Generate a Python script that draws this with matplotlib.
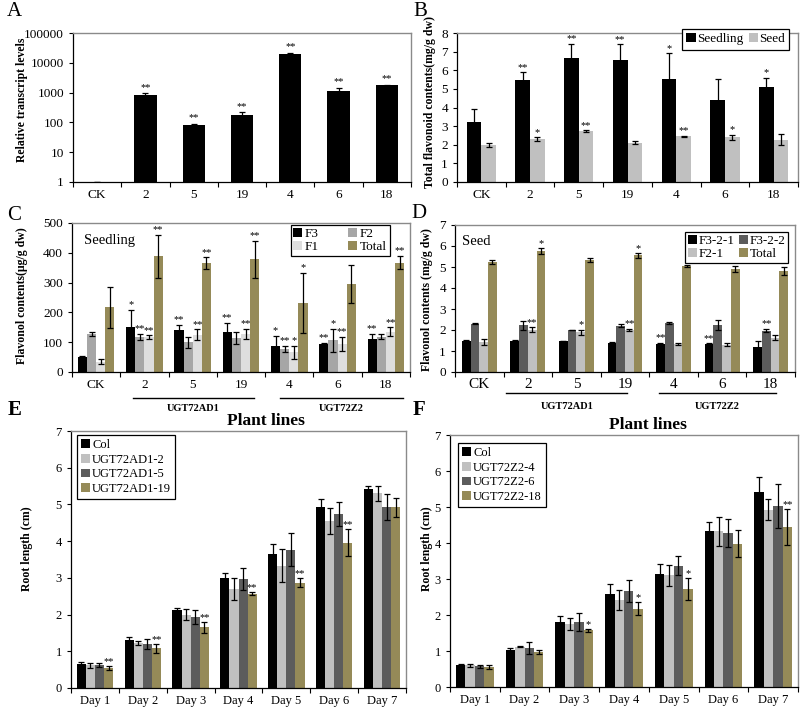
import numpy as np
import matplotlib
matplotlib.use('Agg')
import matplotlib.pyplot as plt

plt.rcParams['font.family'] = ['Liberation Serif', 'DejaVu Serif']
plt.rcParams['font.size'] = 9
plt.rcParams['mathtext.fontset'] = 'stix'

# ---------------- data ----------------
lines = ['CK', '2', '5', '19', '4', '6', '18']

# A: relative transcript levels
a_vals = [1, 800, 80, 175, 20000, 1150, 1750]
a_err = [0, 150, 8, 45, 1500, 300, 100]
a_sig = ['', '**', '**', '**', '**', '**', '**']

# B: total flavonoid contents
b_seedling = [3.2, 5.45, 6.65, 6.55, 5.55, 4.4, 5.1]
b_seedling_err = [0.7, 0.45, 0.78, 0.85, 1.35, 1.15, 0.5]
b_seedling_sig = ['', '**', '**', '**', '*', '', '*']
b_seed = [1.98, 2.3, 2.72, 2.12, 2.46, 2.4, 2.27]
b_seed_err = [0.12, 0.1, 0.05, 0.08, 0.03, 0.13, 0.3]
b_seed_sig = ['', '*', '**', '', '**', '*', '']

# C: seedling flavonols
c_f3 = [52, 150, 140, 135, 86, 93, 112]
c_f3_err = [2, 58, 18, 30, 35, 5, 15]
c_f3_sig = ['', '*', '**', '**', '*', '**', '**']
c_f2 = [128, 118, 100, 115, 78, 106, 118]
c_f2_err = [6, 10, 18, 20, 10, 38, 8]
c_f2_sig = ['', '**', '', '', '**', '*', '']
c_f1 = [35, 117, 125, 127, 66, 95, 135]
c_f1_err = [8, 6, 18, 17, 22, 24, 15]
c_f1_sig = ['', '**', '**', '**', '*', '**', '**']
c_tot = [217, 388, 365, 378, 232, 295, 367]
c_tot_err = [68, 72, 20, 62, 100, 65, 22]
c_tot_sig = ['', '**', '**', '**', '*', '', '**']

# D: seed flavonols
d_f321 = [1.5, 1.5, 1.48, 1.38, 1.32, 1.33, 1.17]
d_f321_err = [0.04, 0.04, 0.02, 0.07, 0.07, 0.04, 0.3]
d_f321_sig = ['', '', '', '', '**', '**', '']
d_f322 = [2.3, 2.22, 2.0, 2.2, 2.35, 2.25, 1.97]
d_f322_err = [0.03, 0.2, 0.02, 0.08, 0.05, 0.25, 0.08]
d_f322_sig = ['', '', '', '', '', '', '**']
d_f21 = [1.43, 2.02, 1.9, 2.0, 1.33, 1.3, 1.63]
d_f21_err = [0.15, 0.1, 0.12, 0.05, 0.05, 0.07, 0.12]
d_f21_sig = ['', '**', '*', '**', '', '', '']
d_tot = [5.22, 5.75, 5.35, 5.55, 5.05, 4.9, 4.8]
d_tot_err = [0.1, 0.15, 0.1, 0.1, 0.05, 0.15, 0.2]
d_tot_sig = ['', '*', '', '*', '*', '*', '*']

days = ['Day 1', 'Day 2', 'Day 3', 'Day 4', 'Day 5', 'Day 6', 'Day 7']

# E: root length UGT72AD1
e_names = ['Col', 'UGT72AD1-2', 'UGT72AD1-5', 'UGT72AD1-19']
e_col = [0.66, 1.3, 2.12, 3.0, 3.65, 4.92, 5.43]
e_col_err = [0.04, 0.08, 0.07, 0.12, 0.28, 0.22, 0.07]
e_l2 = [0.62, 1.22, 2.0, 2.7, 3.33, 4.55, 5.3]
e_l2_err = [0.07, 0.06, 0.15, 0.3, 0.45, 0.35, 0.2]
e_l5 = [0.62, 1.2, 1.93, 2.98, 3.77, 4.73, 4.93]
e_l5_err = [0.05, 0.14, 0.2, 0.3, 0.46, 0.33, 0.35]
e_l19 = [0.55, 1.08, 1.65, 2.57, 2.87, 3.96, 4.92]
e_l19_err = [0.05, 0.12, 0.14, 0.05, 0.12, 0.37, 0.25]
e_l19_sig = ['**', '**', '**', '**', '**', '**', '']

# F: root length UGT72Z2
f_names = ['Col', 'UGT72Z2-4', 'UGT72Z2-6', 'UGT72Z2-18']
f_col = [0.6, 1.02, 1.8, 2.58, 3.15, 4.33, 5.43]
f_col_err = [0.04, 0.05, 0.16, 0.27, 0.28, 0.25, 0.4]
f_l4 = [0.6, 1.12, 1.75, 2.42, 3.1, 4.32, 4.93]
f_l4_err = [0.05, 0.02, 0.17, 0.27, 0.3, 0.4, 0.28]
f_l6 = [0.57, 1.08, 1.8, 2.67, 3.37, 4.28, 5.03]
f_l6_err = [0.04, 0.17, 0.25, 0.3, 0.27, 0.4, 0.6]
f_l18 = [0.55, 0.98, 1.57, 2.18, 2.73, 3.98, 4.45]
f_l18_err = [0.06, 0.06, 0.04, 0.17, 0.3, 0.37, 0.5]
f_l18_sig = ['', '', '*', '*', '*', '', '**']

BLACK = '#000000'
LGREY = '#c0c0c0'
MGREY = '#a6a6a6'
VLGREY = '#dedede'
DGREY = '#5c5c5c'
OLIVE = '#958a58'

W, H = 800, 709
fig = plt.figure(figsize=(8, 7.09), dpi=100)


def add_ax(x0, y0, x1, y1):
    return fig.add_axes([x0 / W, 1 - y1 / H, (x1 - x0) / W, (y1 - y0) / H])


def style(ax, labels, ylim, yticks):
    n = len(labels)
    ax.set_xlim(-0.5, n - 0.5)
    ax.set_xticks(np.arange(n + 1) - 0.5)
    ax.set_xticklabels([])
    ax.set_xticks(np.arange(n), labels=labels, minor=True)
    ax.tick_params(axis='x', which='minor', length=0, labelsize=9.5, pad=5)
    ax.tick_params(axis='x', which='major', length=3.5, direction='out', width=0.8)
    ax.set_ylim(*ylim)
    ax.set_yticks(yticks)
    ax.tick_params(axis='y', length=3, direction='out', width=0.8, labelsize=9.5)
    for s in ['top', 'right']:
        ax.spines[s].set_color('#8a8a8a')
        ax.spines[s].set_linewidth(1.0)
    for s in ['left', 'bottom']:
        ax.spines[s].set_linewidth(0.9)


def bars(ax, x, vals, errs, width, color, sigs=None, pad=0.0, log=False, label=None):
    x = np.asarray(x, dtype=float)
    ekw = dict(elinewidth=0.9, capthick=0.9, ecolor='black')
    if log:
        v = np.asarray(vals, dtype=float)
        ax.bar(x, v - 1, width, bottom=1, color=color, yerr=errs, capsize=2.5,
               error_kw=ekw, label=label)
    else:
        ax.bar(x, vals, width, color=color, yerr=errs, capsize=2.3,
               error_kw=ekw, label=label)
    if sigs:
        for xi, v, e, s in zip(x, vals, errs, sigs):
            if s:
                top = (v + e) * pad if log else v + e + pad
                ax.text(xi, top, s, ha='center', va='bottom', fontsize=7.5)


def legend(ax, loc, anchor, ncol, order=None, **kw):
    h, l = ax.get_legend_handles_labels()
    if order is not None:
        h = [h[i] for i in order]
        l = [l[i] for i in order]
    kw.setdefault('handletextpad', 0.2)
    leg = ax.legend(h, l, loc=loc, bbox_to_anchor=anchor, ncol=ncol, frameon=True,
                    fancybox=False, edgecolor='black', framealpha=1,
                    handlelength=0.7, handleheight=0.7,
                    borderaxespad=0, **kw)
    leg.get_frame().set_linewidth(0.9)
    return leg


x = np.arange(len(lines))

# ---------------- A ----------------
axA = add_ax(73, 33, 411, 182)
axA.set_yscale('log')
bars(axA, x, a_vals, a_err, 0.46, BLACK, a_sig, pad=1.12, log=True)
style(axA, lines, (1, 100000), [1, 10, 100, 1000, 10000, 100000])
axA.set_yticklabels(['1', '10', '100', '1000', '10000', '100000'])
axA.yaxis.set_minor_locator(matplotlib.ticker.NullLocator())
axA.set_xticks(np.arange(len(lines)), labels=lines, minor=True)
axA.tick_params(axis='x', which='minor', length=0)

# ---------------- B ----------------
axB = add_ax(457, 33, 798, 182)
bars(axB, x - 0.15, b_seedling, b_seedling_err, 0.3, BLACK, b_seedling_sig, pad=0.02, label='Seedling')
bars(axB, x + 0.15, b_seed, b_seed_err, 0.3, LGREY, b_seed_sig, pad=0.02, label='Seed')
style(axB, lines, (0, 8), range(0, 9))
legend(axB, 'upper right', (0.975, 1.03), 2, fontsize=9.5, columnspacing=0.4,
       borderpad=0.35, handletextpad=0.1)

# ---------------- C ----------------
axC = add_ax(72, 223, 410, 372)
wc = 0.19
bars(axC, x - 1.5 * wc, c_f3, c_f3_err, wc, BLACK, c_f3_sig, pad=2, label='F3')
bars(axC, x - 0.5 * wc, c_f2, c_f2_err, wc, MGREY, c_f2_sig, pad=2, label='F2')
bars(axC, x + 0.5 * wc, c_f1, c_f1_err, wc, VLGREY, c_f1_sig, pad=2, label='F1')
bars(axC, x + 1.5 * wc, c_tot, c_tot_err, wc, OLIVE, c_tot_sig, pad=2, label='Total')
style(axC, lines, (0, 500), range(0, 501, 100))
legend(axC, 'upper right', (0.94, 0.985), 2, order=[0, 2, 1, 3], fontsize=9.5,
       columnspacing=2.2, labelspacing=0.05, borderpad=0.2)
axC.text(0.035, 0.88, 'Seedling', transform=axC.transAxes, fontsize=10.5, va='center')

# ---------------- D ----------------
axD = add_ax(455, 225, 795, 372)
wd = 0.18
bars(axD, x - 1.5 * wd, d_f321, d_f321_err, wd, BLACK, d_f321_sig, pad=0.02, label='F3-2-1')
bars(axD, x - 0.5 * wd, d_f322, d_f322_err, wd, DGREY, d_f322_sig, pad=0.02, label='F3-2-2')
bars(axD, x + 0.5 * wd, d_f21, d_f21_err, wd, LGREY, d_f21_sig, pad=0.02, label='F2-1')
bars(axD, x + 1.5 * wd, d_tot, d_tot_err, wd, OLIVE, d_tot_sig, pad=0.02, label='Total')
style(axD, lines, (0, 7), range(0, 8))
axD.tick_params(axis='x', which='minor', labelsize=11, pad=4)
legend(axD, 'upper right', (0.98, 0.95), 2, order=[0, 2, 1, 3], fontsize=9.5,
       columnspacing=0.35, labelspacing=0.05, borderpad=0.2, handletextpad=0.1)
axD.text(0.02, 0.89, 'Seed', transform=axD.transAxes, fontsize=10.5, va='center')

# group underlines for C and D
for ax, yl, yt, spans in [(axC, -0.175, -0.245, [(0.77, 3.27), (3.8, 6.35)]),
                          (axD, -0.145, -0.235, [(0.55, 3.05), (3.7, 6.1)])]:
    tr = ax.get_xaxis_transform()
    for (x0, x1), name in zip(spans, ['UGT72AD1', 'UGT72Z2']):
        ax.plot([x0, x1], [yl, yl], color='black', lw=1.0, transform=tr, clip_on=False)
        ax.text((x0 + x1) / 2, yt, name, transform=tr, ha='center', va='center',
                fontsize=7.5, fontweight='bold')

# ---------------- E ----------------
dx = np.arange(len(days))
axE = add_ax(71, 431, 406, 688)
we = 0.19
bars(axE, dx - 1.5 * we, e_col, e_col_err, we, BLACK, label=e_names[0])
bars(axE, dx - 0.5 * we, e_l2, e_l2_err, we, LGREY, label=e_names[1])
bars(axE, dx + 0.5 * we, e_l5, e_l5_err, we, DGREY, label=e_names[2])
bars(axE, dx + 1.5 * we, e_l19, e_l19_err, we, OLIVE, e_l19_sig, pad=0.0, label=e_names[3])
style(axE, days, (0, 7), range(0, 8))
axE.tick_params(axis='x', which='minor', labelsize=9)
axE.tick_params(axis='y', labelsize=9)
legend(axE, 'upper left', (0.018, 0.984), 1, fontsize=9, labelspacing=0.22,
       borderpad=0.3)

# ---------------- F ----------------
axF = add_ax(450, 435, 798, 687)
bars(axF, dx - 1.5 * we, f_col, f_col_err, we, BLACK, label=f_names[0])
bars(axF, dx - 0.5 * we, f_l4, f_l4_err, we, LGREY, label=f_names[1])
bars(axF, dx + 0.5 * we, f_l6, f_l6_err, we, DGREY, label=f_names[2])
bars(axF, dx + 1.5 * we, f_l18, f_l18_err, we, OLIVE, f_l18_sig, pad=0.0, label=f_names[3])
style(axF, days, (0, 7), range(0, 8))
axF.tick_params(axis='x', which='minor', labelsize=9)
axF.tick_params(axis='y', labelsize=9)
legend(axF, 'upper left', (0.023, 0.968), 1, fontsize=9, labelspacing=0.22,
       borderpad=0.3)

# ---------------- axis labels / panel letters ----------------
def ylab(xp, yp, s):
    fig.text(xp / W, 1 - yp / H, s, rotation=90, ha='center', va='center',
             fontsize=8.5, fontweight='bold')

ylab(22, 100, 'Relative transcript levels')
ylab(430, 102, 'Total flavonoid contents(mg/g dw)')
ylab(22, 296, 'Flavonol contents(μg/g dw)')
ylab(427, 300, 'Flavonol contents (mg/g dw)')
ylab(27, 549, 'Root length (cm)')
ylab(427, 549, 'Root length (cm)')

def letter(xp, yp, s, bold=False):
    fig.text(xp / W, 1 - yp / H, s, ha='center', va='center', fontsize=15,
             fontweight='bold' if bold else 'normal')

letter(14, 12, 'A')
letter(420, 12, 'B')
letter(14, 215, 'C')
letter(419, 213, 'D')
letter(15, 410, 'E', bold=True)
letter(419, 410, 'F', bold=True)

fig.text(266 / W, 1 - 421 / H, 'Plant lines', ha='center', va='center',
         fontsize=12.5, fontweight='bold')
fig.text(648 / W, 1 - 425 / H, 'Plant lines', ha='center', va='center',
         fontsize=12.5, fontweight='bold')

fig.savefig('out.png', dpi=100)
